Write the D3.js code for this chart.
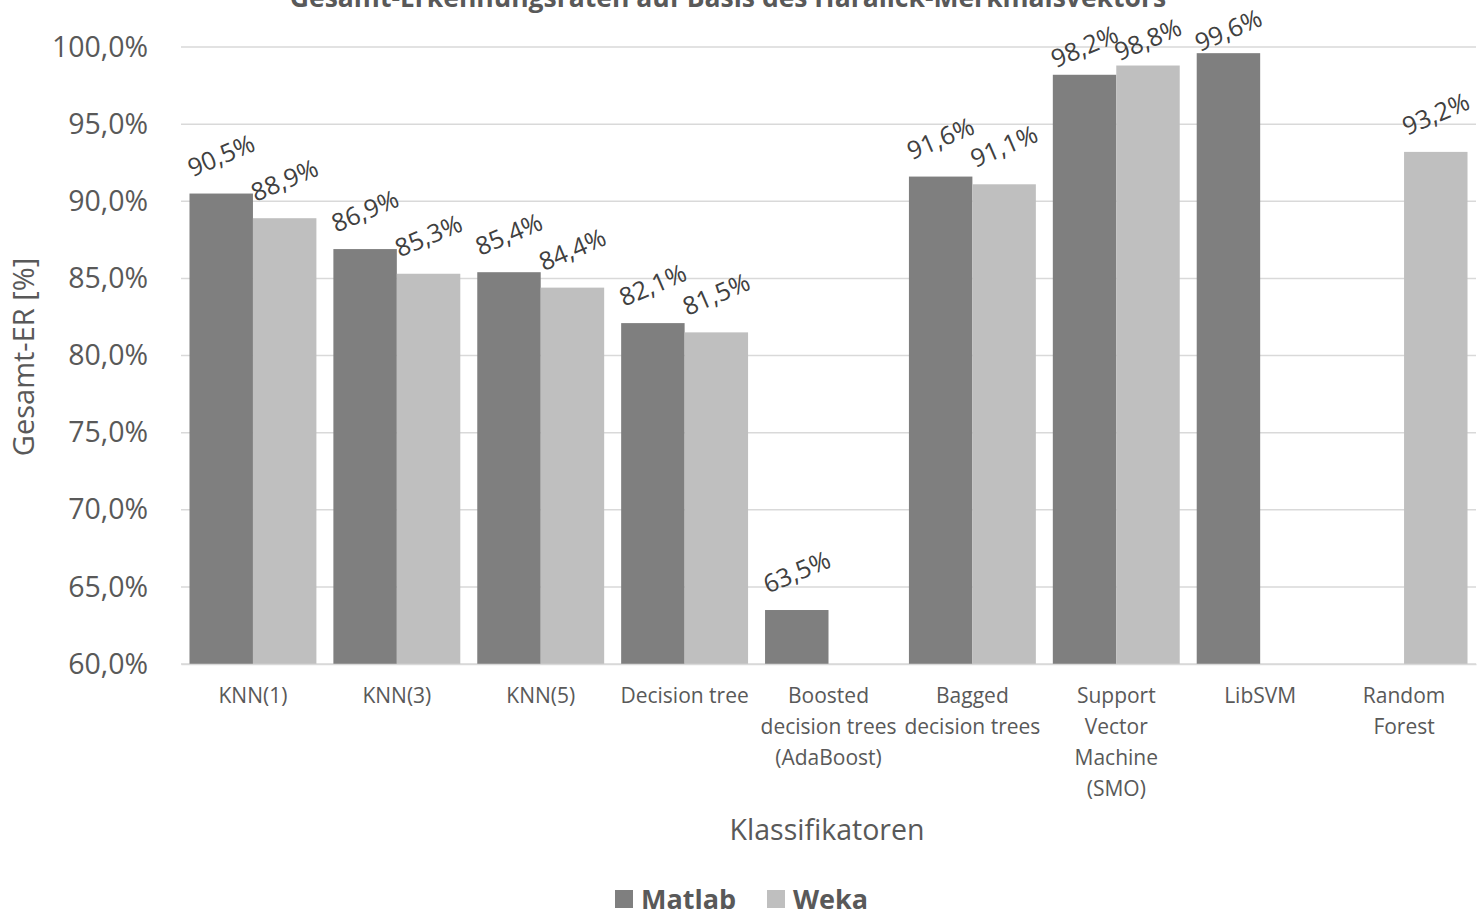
<!DOCTYPE html>
<html>
<head>
<meta charset="utf-8">
<script src="https://cdn.jsdelivr.net/npm/d3@7"></script>
<style>
  body { margin: 0; background: #fff; }
  svg text { font-family: 'Open Sans', sans-serif; }
</style>
</head>
<body>
<svg id="chart" width="1484" height="916"></svg>
<script>
// Chart data
const categories = [
  'KNN(1)', 'KNN(3)', 'KNN(5)', 'Decision tree',
  'Boosted\ndecision trees\n(AdaBoost)', 'Bagged\ndecision trees',
  'Support\nVector\nMachine\n(SMO)', 'LibSVM', 'Random\nForest'
];
const matlab = [90.5, 86.9, 85.4, 82.1, 63.5, 91.6, 98.2, 99.6, null];
const weka = [88.9, 85.3, 84.4, 81.5, null, 91.1, 98.8, null, 93.2];
const seriesNames = ['Matlab', 'Weka'];
const yTicks = [60, 65, 70, 75, 80, 85, 90, 95, 100];

const colors = ['#7f7f7f', '#bfbfbf'];
const fmt = v => d3.format('.1f')(v).replace('.', ',') + '%';

const plotLeft = 181, plotRight = 1476, plotTop = 47, plotBottom = 664;

const svg = d3.select('#chart');

const xScale = d3.scaleBand()
  .domain(categories)
  .range([plotLeft, plotRight])
  .paddingInner(0.118)
  .paddingOuter(0.059);

const xSub = d3.scaleBand()
  .domain(seriesNames)
  .range([0, xScale.bandwidth()]);

const yScale = d3.scaleLinear()
  .domain([60, 100])
  .range([plotBottom, plotTop]);

// gridlines
svg.append('g')
  .selectAll('line')
  .data(yTicks)
  .join('line')
  .attr('x1', plotLeft)
  .attr('x2', plotRight)
  .attr('y1', d => yScale(d))
  .attr('y2', d => yScale(d))
  .attr('stroke', '#d9d9d9')
  .attr('stroke-width', 1.5);

// y axis
const yAxis = svg.append('g')
  .attr('transform', `translate(${plotLeft},0)`)
  .call(d3.axisLeft(yScale).tickValues(yTicks).tickFormat(fmt).tickSize(0).tickPadding(33));
yAxis.select('.domain').remove();
yAxis.selectAll('text')
  .attr('fill', '#595959')
  .style('font-size', '28.5px');

// bars
const rows = categories.map((c, i) => ({ cat: c, values: [matlab[i], weka[i]] }));

const groups = svg.append('g')
  .selectAll('g')
  .data(rows)
  .join('g')
  .attr('transform', d => `translate(${xScale(d.cat)},0)`);

groups.selectAll('rect')
  .data(d => d.values.map((v, j) => ({ key: seriesNames[j], v, j })).filter(d => d.v !== null))
  .join('rect')
  .attr('x', d => xSub(d.key))
  .attr('width', xSub.bandwidth())
  .attr('y', d => yScale(d.v))
  .attr('height', d => yScale(60) - yScale(d.v))
  .attr('fill', d => colors[d.j]);

// data labels, rotated; squeezed down near the top edge like the original
const labelY = v => {
  const cy = yScale(v) - 38;
  return cy < 48 ? 31 + (cy - 16) * 0.75 : cy;
};

groups.selectAll('text.lbl')
  .data(d => d.values.map((v, j) => ({ key: seriesNames[j], v, j })).filter(d => d.v !== null))
  .join('text')
  .attr('class', 'lbl')
  .attr('transform', d => `translate(${xSub(d.key) + xSub.bandwidth() / 2},${labelY(d.v)}) rotate(-23)`)
  .attr('text-anchor', 'middle')
  .attr('dy', '0.35em')
  .attr('fill', '#404040')
  .style('font-size', '25px')
  .text(d => fmt(d.v));

// x axis
const xAxis = svg.append('g')
  .attr('transform', `translate(0,${plotBottom})`)
  .call(d3.axisBottom(xScale).tickSize(0).tickFormat(''));
xAxis.select('.domain').attr('stroke', '#d9d9d9').attr('stroke-width', 1.5);

xAxis.selectAll('.tick')
  .append('text')
  .attr('fill', '#595959')
  .attr('text-anchor', 'middle')
  .style('font-size', '21px')
  .selectAll('tspan')
  .data(d => d.split('\n'))
  .join('tspan')
  .attr('x', 0)
  .attr('y', (d, i) => 39 + i * 31)
  .text(d => d);

// axis titles
svg.append('text')
  .attr('transform', `translate(34,357) rotate(-90)`)
  .attr('text-anchor', 'middle')
  .attr('fill', '#595959')
  .style('font-size', '29px')
  .text('Gesamt-ER [%]');

svg.append('text')
  .attr('x', 827)
  .attr('y', 840)
  .attr('text-anchor', 'middle')
  .attr('fill', '#595959')
  .style('font-size', '28.5px')
  .text('Klassifikatoren');

// title (cut off at the top)
svg.append('text')
  .attr('x', 728)
  .attr('y', 7)
  .attr('text-anchor', 'middle')
  .attr('fill', '#595959')
  .style('font-size', '26.5px')
  .style('font-weight', 'bold')
  .text('Gesamt-Erkennungsraten auf Basis des Haralick-Merkmalsvektors');

// legend
const legendX = [615, 767];
const legend = svg.selectAll('.legend')
  .data(seriesNames)
  .enter()
  .append('g')
  .attr('class', 'legend')
  .attr('transform', (d, i) => `translate(${legendX[i]},890)`);

legend.append('rect')
  .attr('width', 18)
  .attr('height', 18)
  .attr('fill', (d, i) => colors[i]);

legend.append('text')
  .attr('x', 26)
  .attr('y', 9)
  .attr('dy', '0.36em')
  .attr('fill', '#595959')
  .style('font-size', '27px')
  .style('font-weight', 'bold')
  .text(d => d);
</script>
</body>
</html>
